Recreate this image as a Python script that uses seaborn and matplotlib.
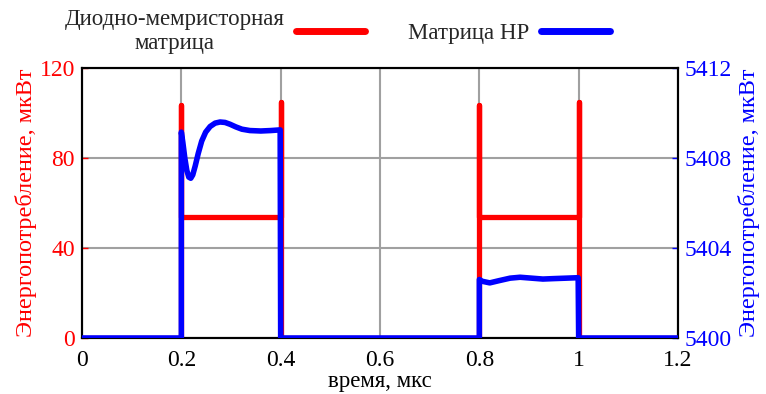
import matplotlib
matplotlib.use("Agg")
import matplotlib.pyplot as plt
import seaborn as sns
import pandas as pd

# --- data ---
red_t = [0.0, 0.2, 0.2, 0.2, 0.4, 0.4, 0.4, 0.8, 0.8, 0.8, 1.0, 1.0, 1.0, 1.2]
red_p = [0.0, 0.0, 103.5, 53.7, 53.7, 105.0, 0.0, 0.0, 103.5, 53.7, 53.7, 105.0, 0.0, 0.0]

blue_t = [0.0, 0.2, 0.2, 0.203, 0.207, 0.211, 0.215, 0.219, 0.223, 0.228, 0.234, 0.241,
          0.249, 0.258, 0.268, 0.278, 0.288, 0.298, 0.31, 0.322, 0.338, 0.36, 0.38, 0.399,
          0.4, 0.8, 0.8, 0.806, 0.821, 0.84, 0.862, 0.882, 0.905, 0.928, 0.95, 0.975,
          0.999, 1.0, 1.2]
blue_p = [5400.0, 5400.0, 5409.15, 5408.7, 5408.0, 5407.45, 5407.15, 5407.1, 5407.25, 5407.65,
          5408.2, 5408.75, 5409.15, 5409.4, 5409.55, 5409.6, 5409.58, 5409.5, 5409.38, 5409.28,
          5409.22, 5409.2, 5409.22, 5409.25, 5400.0, 5400.0, 5402.6, 5402.52, 5402.45, 5402.55,
          5402.66, 5402.7, 5402.66, 5402.62, 5402.64, 5402.66, 5402.68, 5400.0, 5400.0]

x_ticks = [0, 0.2, 0.4, 0.6, 0.8, 1.0, 1.2]
x_tick_labels = ["0", "0.2", "0.4", "0.6", "0.8", "1", "1.2"]
left_ticks = [0, 40, 80, 120]
right_ticks = [5400, 5404, 5408, 5412]

red_label = "Диодно-мемристорная\nматрица"
blue_label = "Матрица НР"

sns.set_theme(style="white")
plt.rcParams["font.family"] = ["Liberation Serif", "DejaVu Serif"]
plt.rcParams["font.size"] = 16.5

RED = "#ff0000"
BLUE = "#0000ff"
TS = 17

fig = plt.figure(figsize=(7.66, 3.94), dpi=100)
ax = fig.add_axes([82 / 766, 1 - 338 / 394, (678 - 82) / 766, (338 - 68) / 394])
ax2 = ax.twinx()

df_r = pd.DataFrame({"t": red_t, "p": red_p})
df_b = pd.DataFrame({"t": blue_t, "p": blue_p})

sns.lineplot(data=df_r, x="t", y="p", ax=ax, sort=False, estimator=None,
             color=RED, linewidth=3.8, label=red_label, legend=False, zorder=3)
sns.lineplot(data=df_b, x="t", y="p", ax=ax2, sort=False, estimator=None,
             color=BLUE, linewidth=4.0, label=blue_label, legend=False, zorder=3)

ax.set_xlim(0, 1.2)
ax.set_ylim(0, 120)
ax2.set_ylim(5400, 5412)
ax.set_xticks(x_ticks)
ax.set_xticklabels(x_tick_labels)
ax.set_yticks(left_ticks)
ax2.set_yticks(right_ticks)

ax.grid(True, color="#a0a0a0", linewidth=1.5)
ax.set_axisbelow(True)
ax.set_zorder(2)
ax2.set_zorder(3)
ax.patch.set_visible(True)
ax2.patch.set_visible(False)

for a in (ax, ax2):
    for s in a.spines.values():
        s.set_color("black")
        s.set_linewidth(1.5)

ax.tick_params(axis="y", colors=RED, labelsize=TS, direction="in", length=4, width=1, pad=5)
ax.tick_params(axis="x", colors="black", labelsize=TS, direction="in", length=4, width=1, pad=9)
ax2.tick_params(axis="y", colors=BLUE, labelsize=TS, direction="in", length=4, width=1, pad=5)
for lbl in ax.get_yticklabels():
    lbl.set_color(RED)
for lbl in ax2.get_yticklabels():
    lbl.set_color(BLUE)

ax.set_xlabel("время, мкс", fontsize=16.5, color="black", labelpad=0)
ax.set_ylabel("Энергопотребление, мкВт", fontsize=17.5, color=RED, labelpad=2)
ax2.set_ylabel("Энергопотребление, мкВт", fontsize=17.5, color=BLUE, labelpad=4)

h1, l1 = ax.get_legend_handles_labels()
h2, l2 = ax2.get_legend_handles_labels()
leg = fig.legend(h1 + h2, l1 + l2, loc="upper center", bbox_to_anchor=(0.44, 1.03),
                 ncol=2, frameon=False, markerfirst=False, handlelength=3.0,
                 columnspacing=1.9, handletextpad=0.5, fontsize=16.5)
for txt in leg.get_texts():
    txt.set_multialignment("center")
for line in leg.get_lines():
    line.set_linewidth(5)

fig.savefig("out.png", dpi=100)
